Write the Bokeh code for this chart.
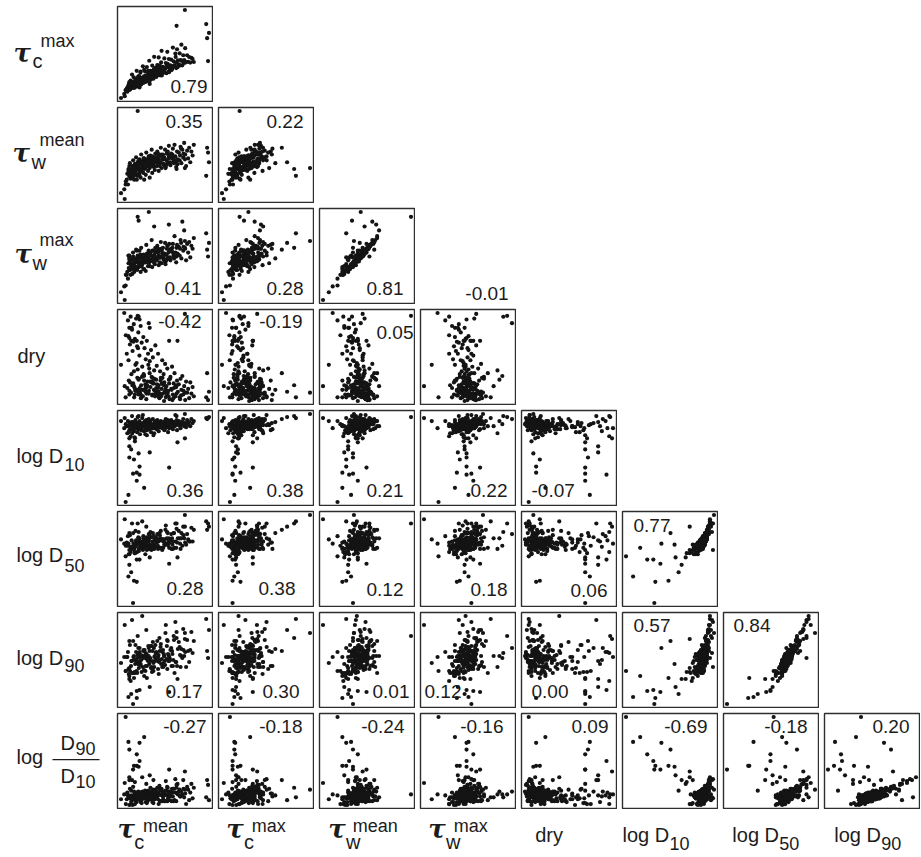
from bokeh.plotting import figure
from bokeh.models import GridBox, Range1d, Label
from bokeh.embed import file_html
from bokeh.resources import INLINE

# ---------------- data (no units on the axes) ----------------
tau_c_mean = [
    3.5, 5.2, 6.8, 7.5, 8.1, 9.0, 9.6, 10.4, 11.2, 11.9,
    12.5, 13.1, 13.8, 14.2, 15.0, 15.6, 16.3, 16.9, 17.4, 18.0,
    18.7, 19.3, 19.9, 20.5, 21.2, 21.8, 22.3, 22.9, 23.6, 24.1,
    24.8, 25.4, 26.0, 26.7, 27.3, 27.9, 28.6, 29.2, 29.9, 30.5,
    31.0, 31.8, 32.4, 33.1, 33.7, 34.4, 35.0, 35.8, 36.5, 37.1,
    37.9, 38.6, 39.2, 40.0, 40.7, 41.5, 42.2, 43.0, 43.8, 44.5,
    45.3, 46.0, 46.8, 47.6, 48.4, 49.1, 50.0, 50.8, 51.7, 52.5,
    53.4, 54.2, 55.1, 56.0, 56.9, 57.8, 58.7, 59.6, 60.5, 61.4,
    62.4, 63.3, 64.3, 65.2, 66.2, 67.2, 68.2, 69.3, 70.3, 71.4,
    72.5, 73.6, 74.8, 76.0, 77.3, 78.6, 8.4, 14.7, 20.9, 26.3,
    10.8, 17.6, 23.1, 28.2, 33.5, 38.0, 41.9, 45.6, 49.5, 53.0,
    12.2, 19.0, 24.5, 30.1, 36.0, 39.8, 44.1, 48.0, 55.5, 59.0,
    15.3, 21.5, 27.0, 32.8, 37.5, 42.7, 47.2, 51.3, 57.2, 63.8,
    9.8, 16.0, 22.0, 28.0, 34.0, 40.5, 46.5, 52.0, 60.0, 67.5,
    6.2, 11.5, 14.0, 18.3, 22.6, 25.9, 29.5, 33.9, 38.8, 43.3,
    16.8, 20.2, 24.4, 27.6, 31.5, 35.5, 41.1, 46.2, 50.4, 56.5,
    13.4, 18.9, 26.5, 30.9, 36.8, 40.0, 44.8, 49.8, 54.6, 64.9,
    5, 8, 25, 17, 20, 13, 17, 52, 20, 14,
    9, 19, 31, 11, 9, 61, 69, 9, 35, 15,
    92, 95, 93, 94, 69, 60, 18, 4, 0, 30, 19,
]
tau_c_max = [
    4.6, 8.4, 7.2, 12.5, 8.8, 16.2, 11.5, 19.9, 13.3, 26.6,
    11.9, 16.2, 23.5, 11.7, 19.1, 15.3, 21.7, 30.9, 17.2, 14.5,
    19.8, 16.1, 24.4, 18.6, 30.0, 15.2, 22.5, 18.8, 36.1, 21.3,
    24.7, 18.9, 30.2, 22.5, 18.8, 35.1, 25.4, 28.7, 22.1, 42.3,
    23.6, 30.9, 21.2, 27.6, 36.8, 24.2, 30.5, 46.8, 28.2, 34.4,
    24.8, 31.1, 37.4, 28.8, 46.1, 34.5, 25.8, 32.2, 53.6, 29.9,
    35.3, 29.6, 45.0, 33.4, 39.7, 28.1, 52.5, 36.9, 44.3, 33.7,
    37.1, 43.5, 32.9, 57.3, 41.7, 37.2, 50.6, 34.0, 55.4, 42.9,
    38.3, 50.8, 43.2, 60.6, 37.1, 48.6, 43.1, 56.6, 41.0, 48.6,
    41.1, 46.6, 40.2, 45.7, 44.3, 40.9, 15.0, 13.9, 28.8, 18.4,
    14.1, 13.3, 21.9, 21.3, 29.7, 23.9, 36.7, 30.4, 35.3, 31.9,
    12.7, 18.9, 17.5, 27.1, 25.9, 34.7, 25.7, 33.6, 34.1, 46.7,
    15.2, 22.1, 19.7, 25.4, 32.6, 28.1, 34.2, 30.1, 36.9, 37.0,
    9.6, 15.5, 20.3, 19.2, 27.0, 26.0, 30.9, 29.4, 40.2, 40.7,
    10.9, 11.4, 18.6, 23.6, 17.6, 23.2, 30.9, 24.9, 31.2, 40.4,
    17.9, 23.5, 17.5, 25.0, 22.8, 32.7, 30.3, 28.7, 38.7, 35.6,
    12.3, 17.9, 25.5, 19.5, 27.3, 36.8, 29.1, 37.4, 31.7, 42.5,
    9, 14, 32, 15, 12, 12, 21, 35, 15, 12,
    14, 18, 16, 18, 16, 35, 40, 18, 22, 12,
    84, 74, 68, 42, 100, 82, 20, 2, 0, 30, 25,
]
tau_w_mean = [
    14, 22, 30, 19, 35, 27, 41, 25, 33, 38,
    29, 44, 36, 24, 40, 32, 47, 35, 28, 42,
    37, 30, 45, 41, 26, 50, 34, 39, 43, 31,
    46, 35, 40, 29, 52, 38, 44, 33, 48, 41,
    36, 49, 42, 55, 31, 45, 39, 47, 34, 51,
    43, 38, 53, 46, 33, 49, 41, 57, 36, 45,
    50, 40, 47, 55, 37, 44, 52, 42, 59, 48,
    39, 51, 46, 56, 43, 60, 48, 37, 53, 45,
    52, 44, 58, 41, 55, 47, 62, 50, 38, 54,
    46, 57, 42, 53, 49, 60, 31, 38, 43, 36,
    34, 41, 37, 43, 40, 47, 38, 45, 51, 42,
    26, 39, 42, 37, 44, 40, 48, 36, 50, 44,
    40, 35, 44, 39, 47, 42, 38, 46, 41, 49,
    30, 37, 33, 45, 38, 44, 40, 49, 43, 51,
    24, 31, 38, 42, 36, 45, 40, 48, 43, 50,
    39, 34, 46, 41, 44, 37, 49, 45, 53, 47,
    33, 43, 39, 47, 42, 51, 45, 40, 48, 56,
    19, 33, 24, 40, 31, 35, 24, 49, 28, 28,
    35, 35, 26, 30, 30, 40, 45, 38, 42, 30,
    28, 42, 57, 52, 36, 35, 95, 4, 10, 43, 34,
]
tau_w_max = [
    18, 30, 33, 26, 42, 35, 44, 30, 41, 40,
    37, 49, 40, 33, 47, 36, 56, 38, 35, 50,
    42, 38, 55, 44, 33, 58, 40, 47, 49, 36,
    50, 43, 47, 34, 61, 45, 52, 39, 55, 46,
    44, 53, 50, 66, 38, 49, 46, 80, 41, 58,
    47, 45, 60, 53, 40, 56, 48, 64, 42, 52,
    58, 46, 52, 63, 44, 51, 60, 48, 82, 55,
    45, 57, 54, 62, 50, 70, 53, 43, 61, 51,
    59, 50, 66, 47, 85, 55, 76, 57, 45, 62,
    53, 64, 48, 60, 57, 68, 37, 45, 51, 43,
    40, 47, 44, 49, 46, 54, 43, 52, 57, 48,
    31, 44, 50, 42, 51, 47, 55, 41, 58, 49,
    46, 42, 49, 45, 54, 48, 44, 53, 47, 57,
    35, 43, 39, 52, 44, 50, 46, 56, 49, 59,
    30, 36, 43, 49, 41, 50, 47, 55, 48, 57,
    45, 40, 51, 48, 50, 43, 55, 49, 60, 52,
    38, 49, 45, 53, 48, 57, 50, 46, 55, 63,
    19, 50, 36, 55, 48, 53, 38, 62, 48, 41,
    48, 48, 39, 46, 46, 52, 58, 50, 55, 45,
    73, 63, 56, 49, 65, 58, 90, 4, 12, 95, 86,
]
dry = [
    96, 72, 15, 88, 45, 8, 62, 92, 30, 78,
    55, 20, 84, 5, 68, 40, 90, 12, 60, 35,
    75, 25, 50, 10, 82, 18, 64, 38, 6, 70,
    28, 58, 14, 46, 3, 66, 22, 52, 9, 36,
    44, 16, 56, 27, 7, 48, 20, 34, 12, 61,
    24, 39, 11, 52, 18, 4, 33, 26, 14, 45,
    9, 30, 21, 41, 5, 17, 36, 12, 24, 3,
    27, 14, 38, 8, 20, 31, 6, 16, 23, 11,
    19, 5, 25, 13, 28, 8, 17, 2, 22, 10,
    14, 4, 21, 9, 16, 6, 23, 15, 8, 19,
    10, 26, 13, 18, 22, 15, 9, 19, 7, 25,
    18, 8, 29, 12, 25, 7, 20, 14, 2, 17,
    12, 4, 17, 21, 9, 23, 11, 6, 15, 3,
    21, 13, 7, 16, 26, 11, 1, 20, 9, 12,
    52, 80, 33, 58, 27, 12, 40, 8, 19, 6,
    42, 15, 30, 9, 22, 13, 5, 18, 10, 4,
    65, 24, 11, 31, 6, 15, 26, 9, 13, 7,
    5, 71, 23, 66, 89, 66, 13, 66, 13, 17,
    69, 10, 80, 66, 80, 66, 95, 12, 20, 8,
    5, 11, 31, 2, 10, 18, 93, 17, 40, 85, 92,
]
log_d10 = [
    78, 82, 73, 85, 80, 76, 83, 70, 81, 90,
    79, 84, 75, 81, 68, 86, 78, 82, 74, 80,
    83, 77, 85, 72, 80, 82, 76, 88, 91, 81,
    75, 84, 80, 78, 86, 71, 82, 79, 83, 77,
    81, 85, 74, 82, 79, 87, 78, 73, 84, 80,
    82, 77, 86, 80, 75, 83, 79, 85, 81, 78,
    84, 80, 76, 83, 87, 79, 82, 74, 85, 81,
    79, 86, 82, 77, 84, 80, 91, 81, 76, 83,
    85, 81, 78, 84, 82, 87, 80, 83, 79, 86,
    82, 84, 80, 87, 83, 85, 74, 69, 77, 72,
    77, 80, 83, 76, 81, 78, 84, 79, 82, 85,
    73, 79, 81, 84, 78, 82, 80, 86, 83, 81,
    80, 76, 82, 79, 85, 81, 77, 83, 84, 80,
    76, 81, 78, 83, 80, 84, 82, 78, 86, 83,
    80, 84, 77, 82, 79, 85, 81, 78, 83, 80,
    83, 79, 81, 85, 78, 82, 84, 80, 86, 81,
    78, 82, 80, 84, 81, 79, 83, 85, 80, 82,
    5, 12, 19, 26, 32, 33, 34, 39, 40, 47,
    49, 53, 54, 57, 60, 64, 68, 68, 71, 65,
    88, 89, 87, 88, 92, 90, 89, 88, 85, 87, 90,
]
log_d50 = [
    61, 59, 59, 68, 61, 51, 69, 53, 58, 80,
    57, 71, 58, 56, 52, 73, 64, 60, 53, 62,
    67, 54, 66, 57, 63, 61, 57, 82, 55, 68,
    59, 65, 59, 60, 77, 55, 59, 65, 63, 56,
    58, 72, 59, 67, 57, 71, 59, 56, 65, 65,
    64, 62, 70, 56, 57, 71, 57, 73, 65, 55,
    65, 63, 60, 60, 78, 61, 60, 60, 66, 62,
    64, 70, 66, 56, 71, 57, 80, 57, 62, 66,
    73, 66, 56, 71, 59, 77, 66, 62, 60, 70,
    65, 63, 63, 76, 63, 74, 51, 53, 62, 51,
    56, 64, 62, 58, 57, 63, 69, 57, 66, 65,
    56, 56, 66, 65, 60, 59, 64, 74, 60, 63,
    58, 60, 65, 55, 67, 66, 60, 64, 71, 61,
    58, 59, 63, 62, 63, 63, 65, 57, 75, 69,
    62, 64, 61, 62, 62, 66, 66, 56, 66, 57,
    63, 63, 62, 67, 60, 68, 64, 63, 71, 63,
    61, 61, 64, 69, 58, 64, 64, 72, 56, 66,
    49, 30, 57, 46, 46, 5, 25, 42, 61, 26,
    71, 60, 48, 34, 41, 48, 77, 55, 60, 52,
    82, 77, 74, 80, 88, 80, 80, 84, 65, 70, 72,
]
log_d90 = [
    51, 37, 51, 56, 39, 32, 63, 27, 47, 88,
    35, 67, 48, 35, 36, 63, 56, 37, 35, 53,
    60, 40, 51, 47, 44, 48, 36, 92, 41, 57,
    38, 58, 52, 42, 78, 30, 48, 47, 52, 44,
    47, 62, 40, 62, 47, 66, 37, 41, 52, 63,
    49, 55, 67, 39, 34, 70, 48, 64, 57, 41,
    58, 45, 52, 43, 83, 49, 39, 54, 52, 50,
    58, 60, 57, 42, 72, 35, 86, 46, 42, 59,
    66, 61, 41, 59, 50, 79, 52, 56, 41, 68,
    57, 46, 58, 76, 55, 67, 34, 35, 43, 37,
    42, 50, 52, 49, 36, 56, 57, 41, 62, 48,
    35, 44, 58, 49, 51, 47, 49, 75, 54, 46,
    44, 53, 50, 41, 55, 61, 47, 47, 68, 53,
    37, 48, 52, 42, 57, 53, 52, 47, 76, 58,
    51, 47, 52, 46, 52, 52, 62, 39, 49, 44,
    46, 56, 50, 54, 50, 60, 46, 54, 67, 48,
    51, 44, 55, 57, 47, 51, 56, 68, 42, 52,
    37, 11, 32, 17, 18, 4, 10, 16, 60, 30,
    67, 44, 21, 14, 29, 29, 69, 40, 45, 36,
    89, 78, 57, 50, 75, 70, 72, 83, 45, 60, 55,
]
log_d90_d10 = [
    15, 5, 17, 14, 14, 4, 21, 5, 8, 30,
    4, 23, 13, 12, 5, 14, 17, 7, 11, 11,
    18, 13, 10, 14, 7, 17, 6, 33, 11, 14,
    11, 14, 19, 7, 26, 6, 8, 16, 13, 17,
    10, 22, 12, 15, 17, 20, 6, 15, 10, 20,
    17, 12, 22, 14, 5, 24, 8, 20, 21, 8,
    13, 16, 16, 8, 29, 19, 8, 11, 18, 14,
    18, 13, 21, 13, 21, 9, 31, 8, 16, 15,
    18, 20, 13, 14, 15, 30, 12, 16, 5, 23,
    20, 9, 17, 26, 11, 22, 12, 15, 13, 14,
    12, 10, 18, 12, 10, 13, 21, 10, 14, 14,
    12, 13, 13, 17, 11, 15, 14, 19, 17, 17,
    9, 17, 18, 10, 12, 19, 8, 16, 21, 13,
    11, 10, 15, 16, 12, 16, 18, 9, 25, 21,
    10, 14, 18, 10, 10, 17, 19, 7, 18, 8,
    13, 11, 14, 18, 11, 14, 15, 14, 22, 8,
    11, 14, 11, 18, 17, 10, 16, 23, 8, 18,
    96, 70, 75, 57, 50, 41, 45, 41, 69, 45,
    62, 44, 35, 19, 30, 26, 39, 33, 30, 28,
    12, 9, 30, 25, 20, 22, 15, 27, 10, 18, 12,
]

# correlation coefficients printed in the panels (row by row, lower triangle)
corr_text = [
    ["0.79"],
    ["0.35", "0.22"],
    ["0.41", "0.28", "0.81"],
    ["-0.42", "-0.19", "0.05", "-0.01"],
    ["0.36", "0.38", "0.21", "0.22", "-0.07"],
    ["0.28", "0.38", "0.12", "0.18", "0.06", "0.77"],
    ["0.17", "0.30", "0.01", "0.12", "0.00", "0.57", "0.84"],
    ["-0.27", "-0.18", "-0.24", "-0.16", "0.09", "-0.69", "-0.18", "0.20"],
]

col_data = [tau_c_mean, tau_c_max, tau_w_mean, tau_w_max, dry, log_d10, log_d50, log_d90]
row_data = [tau_c_max, tau_w_mean, tau_w_max, dry, log_d10, log_d50, log_d90, log_d90_d10]

# ---------------- styling / layout ----------------
PANEL = 97          # figure size; frame = 95 px with a 1 px border around
FRAME = 95
TOP_PAD = 6         # extra space above the first row
GAP = 4
LABEL_W = 112
BOTTOM_H = 42
INK = "#1c1c1c"
SANS = "Liberation Sans"
TAU_FONT = "DejaVu Serif"
CORR_SIZE = 19
SHIFT = 0.37        # the renderer puts the text this many em lower than the given y

# (align, x px from frame left, baseline px from frame top)
corr_pos = [
    [("right", 90, 87)],
    [("right", 85, 21), ("right", 85, 21)],
    [("right", 84, 87), ("right", 85, 87), ("right", 84, 87)],
    [("right", 84, 19), ("right", 84, 19), ("right", 94, 30), ("above", 89, 93)],
    [("right", 86, 87), ("right", 85, 87), ("right", 84, 87), ("right", 87, 87), ("left", 10, 87)],
    [("right", 86, 84), ("right", 77, 84), ("right", 84, 85), ("right", 87, 85), ("right", 86, 86),
     ("left", 11, 21)],
    [("right", 85, 86), ("right", 81, 86), ("right", 90, 86), ("left", 4, 86), ("left", 10, 86),
     ("left", 11, 20), ("left", 10, 20)],
    [("right", 89, 20), ("right", 84, 20), ("right", 85, 20), ("right", 83, 20), ("right", 87, 20),
     ("right", 85, 20), ("right", 84, 20), ("right", 85, 20)],
]


def data_range(v):
    lo, hi = min(v), max(v)
    pad = 0.04 * (hi - lo)
    return Range1d(lo - pad, hi + pad)


def text_fig(w, h):
    p = figure(width=w, height=h, title=None, toolbar_location=None, output_backend="svg",
               x_axis_type=None, y_axis_type=None, min_border=0,
               x_range=Range1d(0, w), y_range=Range1d(h, 0))
    p.outline_line_color = None
    p.background_fill_color = "white"
    p.border_fill_color = "white"
    return p


def put(p, x, y, s, size, font=SANS, style="normal", align="left"):
    # y is the wanted baseline, in px from the top of the figure
    p.add_layout(Label(x=x, y=y - SHIFT * size, text=s, text_font=font,
                       text_font_size=f"{size}px", text_font_style=style, text_align=align,
                       text_baseline="alphabetic", text_color=INK))


def tau(p, x, y_main, y_sub, y_sup, sub, sup, dx_sub, dx_sup):
    put(p, x, y_main, "τ", 26, TAU_FONT, "bold italic")
    put(p, x + dx_sub, y_sub, sub, 20)
    put(p, x + dx_sup, y_sup, sup, 18)


def log_d(p, x, y, y_sub, sub):
    put(p, x, y, "log D", 20)
    put(p, x + 48, y_sub, sub, 18)


children = []

# scatter panels
for r in range(8):
    for c in range(r + 1):
        xv, yv = col_data[c], row_data[r]
        h = PANEL + (TOP_PAD - 1 if r == 0 else 0)
        p = figure(width=PANEL, height=h, title=None, toolbar_location=None,
                   output_backend="svg", x_axis_type=None, y_axis_type=None, min_border=1,
                   min_border_top=(TOP_PAD if r == 0 else 1),
                   x_range=data_range(xv), y_range=data_range(yv))
        p.outline_line_color = "#2e2e2e"
        p.outline_line_width = 1.4
        p.background_fill_color = "white"
        p.border_fill_color = "white"
        p.scatter(x=xv, y=yv, size=4.2, color="#141414", line_width=0)
        align, px, py = corr_pos[r][c]
        if align == "above":
            q = text_fig(PANEL, PANEL)
            put(q, 1 + px, 1 + py, corr_text[r][c], CORR_SIZE, align="right")
            children.append((q, r - 1, c + 1))
        else:
            x0, x1 = p.x_range.start, p.x_range.end
            y0, y1 = p.y_range.start, p.y_range.end
            tx = x0 + px / FRAME * (x1 - x0)
            ty = y1 - (py - SHIFT * CORR_SIZE) / FRAME * (y1 - y0)
            p.add_layout(Label(x=tx, y=ty, text=corr_text[r][c], text_font=SANS,
                               text_font_size=f"{CORR_SIZE}px", text_align=align,
                               text_baseline="alphabetic", text_color=INK))
        children.append((p, r, c + 1))

# left (row) labels; y values are baselines in px from the figure top
rows = [text_fig(LABEL_W, PANEL + (TOP_PAD - 1 if r == 0 else 0)) for r in range(8)]
tau(rows[0], 13, 60, 66, 44, "c", "max", 19, 27)
tau(rows[1], 12, 56, 63, 40, "w", "mean", 19, 27)
tau(rows[2], 14, 56, 63, 39, "w", "max", 18, 25)
put(rows[3], 17, 55, "dry", 20)
log_d(rows[4], 16, 54, 62, "10")
log_d(rows[5], 16, 52, 62, "50")
log_d(rows[6], 16, 54, 61, "90")
put(rows[7], 16, 52, "log", 20)
rows[7].segment(x0=[52], y0=[47], x1=[99], y1=[47], line_color=INK, line_width=1.2)
put(rows[7], 60, 38, "D", 20)
put(rows[7], 75, 42, "90", 18)
put(rows[7], 60, 71, "D", 20)
put(rows[7], 75, 76, "10", 18)
for r in range(8):
    children.append((rows[r], r, 0))

# bottom (column) labels
cols = [text_fig(PANEL, BOTTOM_H) for _ in range(8)]
tau(cols[0], 0, 25, 36, 19, "c", "mean", 17, 26)
tau(cols[1], 8, 25, 36, 19, "c", "max", 18, 26)
tau(cols[2], 9, 25, 36, 19, "w", "mean", 18, 25)
tau(cols[3], 8, 25, 36, 19, "w", "max", 18, 26)
put(cols[4], 14, 29, "dry", 20)
log_d(cols[5], 0, 29, 37, "10")
log_d(cols[6], 9, 29, 37, "50")
log_d(cols[7], 10, 29, 37, "90")
for c in range(8):
    children.append((cols[c], 8, c + 1))

grid = GridBox(children=children, spacing=GAP)

with open("out.html", "w") as f:
    f.write(file_html(grid, INLINE, title="pairs"))
